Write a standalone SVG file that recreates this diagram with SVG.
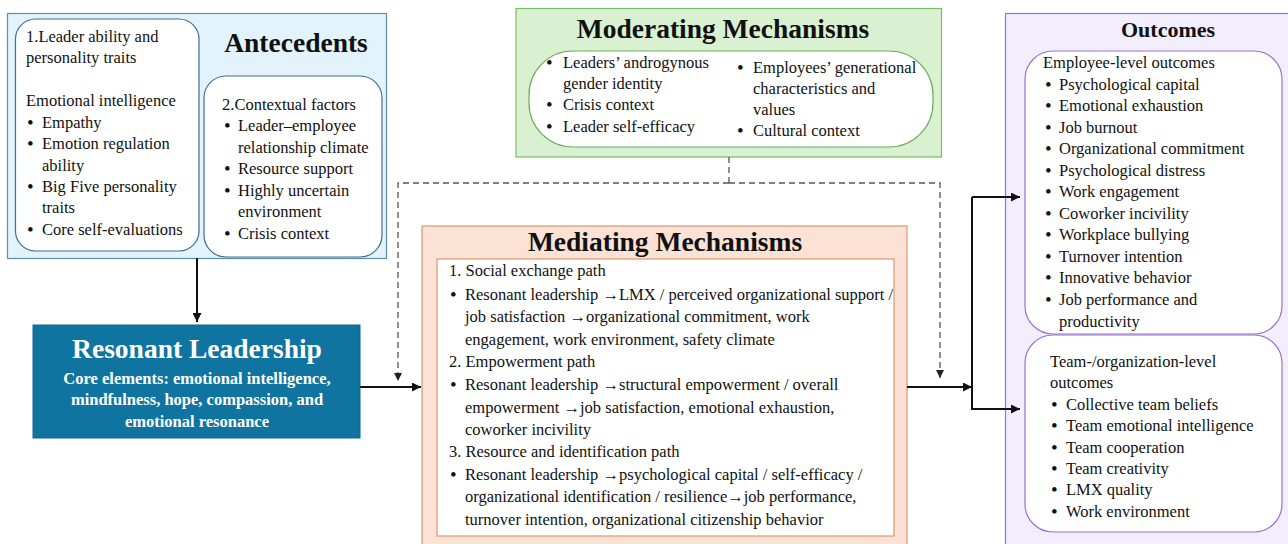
<svg xmlns="http://www.w3.org/2000/svg" width="1288" height="544" viewBox="0 0 1288 544">
  <style>
    text { font-family: "Liberation Serif", "Times New Roman", serif; font-size: 16.5px; fill: #111; }
    .b { font-size: 19px; }
    .title { font-weight: bold; font-size: 27.5px; text-anchor: middle; }
    .panel-ante { fill: #e3f3fb; stroke: #5a8fae; stroke-width: 1.2; }
    .inner-ante { fill: #ffffff; stroke: #3e6f8e; stroke-width: 1.2; }
    .panel-mod { fill: #d9f1d1; stroke: #78bd68; stroke-width: 1.2; }
    .inner-mod { fill: #ffffff; stroke: #6aae5a; stroke-width: 1.2; }
    .panel-med { fill: #fbe2d5; stroke: #de9670; stroke-width: 1.2; }
    .inner-med { fill: #ffffff; stroke: #de9670; stroke-width: 1.2; }
    .panel-out { fill: #f2eefd; stroke: #9b72cc; stroke-width: 1.2; }
    .inner-out { fill: #ffffff; stroke: #9b72cc; stroke-width: 1.2; }
    .core { fill: #0f74a0; stroke: #0c6a92; stroke-width: 1; }
    .core-text { fill: #ffffff; font-weight: bold; text-anchor: middle; }
    .solid { fill: none; stroke: #111; stroke-width: 2; }
    .dashed { fill: none; stroke: #555; stroke-width: 1.3; stroke-dasharray: 6 4; }
  </style>
  <defs>
    <marker id="arrow" viewBox="0 0 10 10" refX="10" refY="5" markerWidth="10" markerHeight="9" markerUnits="userSpaceOnUse" orient="auto">
      <path d="M0,0 L10,5 L0,10 Z" fill="#111"/>
    </marker>
    <marker id="arrow-small" viewBox="0 0 10 10" refX="10" refY="5" markerWidth="8" markerHeight="8" markerUnits="userSpaceOnUse" orient="auto">
      <path d="M0,0 L10,5 L0,10 Z" fill="#222"/>
    </marker>
  </defs>

  <!-- Antecedents -->
  <g id="antecedents">
    <rect class="panel-ante" x="7.5" y="13.5" width="379" height="245"/>
    <rect class="inner-ante" x="15.5" y="19" width="183.5" height="232" rx="20"/>
    <rect class="inner-ante" x="204" y="76" width="178" height="181" rx="22"/>
    <text class="title" x="296" y="52">Antecedents</text>
    <text x="26" y="42">1.Leader ability and</text>
    <text x="26" y="63">personality traits</text>
    <text x="26" y="106">Emotional intelligence</text>
    <text class="b" x="27" y="129">•</text><text x="42" y="128">Empathy</text>
    <text class="b" x="27" y="150">•</text><text x="42" y="149">Emotion regulation</text>
    <text x="42" y="171">ability</text>
    <text class="b" x="27" y="193">•</text><text x="42" y="192">Big Five personality</text>
    <text x="42" y="213">traits</text>
    <text class="b" x="27" y="236">•</text><text x="42" y="235">Core self-evaluations</text>
    <text x="222" y="110">2.Contextual factors</text>
    <text class="b" x="224" y="132">•</text><text x="238" y="131">Leader–employee</text>
    <text x="238" y="153">relationship climate</text>
    <text class="b" x="224" y="175">•</text><text x="238" y="174">Resource support</text>
    <text class="b" x="224" y="197">•</text><text x="238" y="196">Highly uncertain</text>
    <text x="238" y="217">environment</text>
    <text class="b" x="224" y="240">•</text><text x="238" y="239">Crisis context</text>
  </g>

  <!-- Moderating mechanisms -->
  <g id="moderating">
    <rect class="panel-mod" x="516" y="8.5" width="425.5" height="148.5"/>
    <rect class="inner-mod" x="529" y="51" width="404" height="96" rx="44"/>
    <text class="title" x="723" y="38">Moderating Mechanisms</text>
    <text class="b" x="546" y="69">•</text><text x="563" y="68">Leaders’ androgynous</text>
    <text x="563" y="89">gender identity</text>
    <text class="b" x="546" y="111">•</text><text x="563" y="110">Crisis context</text>
    <text class="b" x="546" y="133">•</text><text x="563" y="132">Leader self-efficacy</text>
    <text class="b" x="737" y="74">•</text><text x="753" y="73">Employees’ generational</text>
    <text x="753" y="94">characteristics and</text>
    <text x="753" y="115">values</text>
    <text class="b" x="737" y="137">•</text><text x="753" y="136">Cultural context</text>
  </g>

  <!-- Resonant leadership -->
  <g id="resonant-leadership">
    <rect class="core" x="33" y="325" width="327" height="113"/>
    <text class="core-text" x="197" y="358" style="font-size:27.5px">Resonant Leadership</text>
    <text class="core-text" x="197" y="384">Core elements: emotional intelligence,</text>
    <text class="core-text" x="197" y="405">mindfulness, hope, compassion, and</text>
    <text class="core-text" x="197" y="427">emotional resonance</text>
  </g>

  <!-- Mediating mechanisms -->
  <g id="mediating">
    <rect class="panel-med" x="422" y="226" width="485" height="330"/>
    <rect class="inner-med" x="437" y="259" width="457" height="277"/>
    <text class="title" x="665" y="251">Mediating Mechanisms</text>
    <text x="449" y="276">1. Social exchange path</text>
    <text class="b" x="450" y="301">•</text><text x="465" y="300">Resonant leadership →LMX / perceived organizational support /</text>
    <text x="465" y="322">job satisfaction →organizational commitment, work</text>
    <text x="465" y="345">engagement, work environment, safety climate</text>
    <text x="449" y="367">2. Empowerment path</text>
    <text class="b" x="450" y="391">•</text><text x="465" y="390">Resonant leadership →structural empowerment / overall</text>
    <text x="465" y="413">empowerment →job satisfaction, emotional exhaustion,</text>
    <text x="465" y="435">coworker incivility</text>
    <text x="449" y="457">3. Resource and identification path</text>
    <text class="b" x="450" y="481">•</text><text x="465" y="480">Resonant leadership →psychological capital / self-efficacy /</text>
    <text x="465" y="502">organizational identification / resilience→job performance,</text>
    <text x="465" y="525">turnover intention, organizational citizenship behavior</text>
  </g>

  <!-- Outcomes -->
  <g id="outcomes">
    <rect class="panel-out" x="1005.5" y="13.5" width="300" height="550"/>
    <rect class="inner-out" x="1025" y="51" width="257" height="283" rx="28"/>
    <rect class="inner-out" x="1025" y="335" width="257" height="197" rx="28"/>
    <text class="title" x="1168" y="37" style="font-size:22px">Outcomes</text>
    <text x="1043" y="68">Employee-level outcomes</text>
    <text class="b" x="1045" y="91">•</text><text x="1059" y="90">Psychological capital</text>
    <text class="b" x="1045" y="112">•</text><text x="1059" y="111">Emotional exhaustion</text>
    <text class="b" x="1045" y="134">•</text><text x="1059" y="133">Job burnout</text>
    <text class="b" x="1045" y="155">•</text><text x="1059" y="154">Organizational commitment</text>
    <text class="b" x="1045" y="177">•</text><text x="1059" y="176">Psychological distress</text>
    <text class="b" x="1045" y="198">•</text><text x="1059" y="197">Work engagement</text>
    <text class="b" x="1045" y="220">•</text><text x="1059" y="219">Coworker incivility</text>
    <text class="b" x="1045" y="241">•</text><text x="1059" y="240">Workplace bullying</text>
    <text class="b" x="1045" y="263">•</text><text x="1059" y="262">Turnover intention</text>
    <text class="b" x="1045" y="284">•</text><text x="1059" y="283">Innovative behavior</text>
    <text class="b" x="1045" y="306">•</text><text x="1059" y="305">Job performance and</text>
    <text x="1059" y="327">productivity</text>
    <text x="1050" y="367">Team-/organization-level</text>
    <text x="1050" y="388">outcomes</text>
    <text class="b" x="1051" y="411">•</text><text x="1066" y="410">Collective team beliefs</text>
    <text class="b" x="1051" y="432">•</text><text x="1066" y="431">Team emotional intelligence</text>
    <text class="b" x="1051" y="454">•</text><text x="1066" y="453">Team cooperation</text>
    <text class="b" x="1051" y="475">•</text><text x="1066" y="474">Team creativity</text>
    <text class="b" x="1051" y="496">•</text><text x="1066" y="495">LMX quality</text>
    <text class="b" x="1051" y="518">•</text><text x="1066" y="517">Work environment</text>
  </g>

  <!-- Connectors -->
  <g id="connectors">
    <path class="solid" d="M197,258 L197,322" marker-end="url(#arrow)"/>
    <path class="solid" d="M360,387 L421,387" marker-end="url(#arrow)"/>
    <path class="solid" d="M907,387 L972,387" marker-end="url(#arrow)"/>
    <path class="solid" d="M972,197 L972,409 L1020,409" marker-end="url(#arrow)"/>
    <path class="solid" d="M972,197 L1020,197" marker-end="url(#arrow)"/>
    <path class="dashed" d="M729,157 L729,183"/>
    <path class="dashed" d="M729,183 L398,183 L398,381" marker-end="url(#arrow-small)"/>
    <path class="dashed" d="M729,183 L940,183 L940,378" marker-end="url(#arrow-small)"/>
  </g>
</svg>
